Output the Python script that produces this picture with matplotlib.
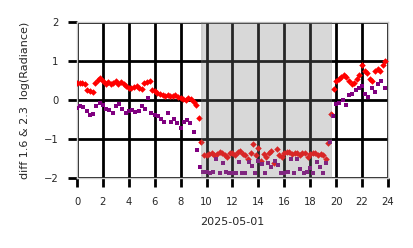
import numpy as np
import matplotlib
matplotlib.use("Agg")
import matplotlib.pyplot as plt

# diff 1.6 um (red) sampled every 0.2 h
red_vals = [0.45, 0.45, 0.43, 0.40, 0.25, 0.22, 0.20, 0.45, 0.52, 0.57,
            0.50, 0.42, 0.47, 0.40, 0.45, 0.48, 0.42, 0.47, 0.42, 0.35,
            0.30, 0.30, 0.33, 0.35, 0.30, 0.28, 0.45, 0.47, 0.48, 0.25,
            0.22, 0.18, 0.15, 0.13, 0.10, 0.12, 0.10, 0.10, 0.12, 0.08,
            0.05, 0.02, 0.00, 0.05, 0.03, -0.05, -0.12, -0.45, -1.07, -1.42,
            -1.40, -1.38, -1.35, -1.42, -1.38, -1.33, -1.36, -1.40, -1.47, -1.37,
            -1.36, -1.42, -1.34, -1.30, -1.38, -1.42, -1.50, -1.35, -1.12, -1.40,
            -1.24, -1.55, -1.38, -1.45, -1.35, -1.30, -1.62, -1.25, -1.40, -1.45,
            -1.35, -1.33, -1.34, -1.38, -1.35, -1.36, -1.40, -1.37, -1.35, -1.45,
            -1.38, -1.35, -1.36, -1.40, -1.38, -1.42, -1.50, -1.10, -0.35, 0.28,
            0.50, 0.55, 0.60, 0.65, 0.60, 0.50, 0.40, 0.45, 0.55, 0.65,
            0.90, 0.75, 0.70, 0.55, 0.50, 0.75, 0.80, 0.75, 0.90, 1.00]
red_step = 0.2

# diff 2.3 um (purple) sampled every 0.25 h
purple_vals = [-0.20, -0.15, -0.17, -0.28, -0.38, -0.35, -0.15, -0.08, -0.12, -0.22,
               -0.25, -0.33, -0.15, -0.10, -0.22, -0.32, -0.28, -0.25, -0.30, -0.28,
               -0.15, -0.22, 0.05, -0.32, -0.38, -0.40, -0.48, -0.55, -0.32, -0.55,
               -0.48, -0.60, -0.72, -0.55, -0.50, -0.60, -0.82, -1.28, -1.72,
               -1.85, -1.85, -1.86, -1.84, -1.50, -1.86, -1.62, -1.85, -1.87, -1.86,
               -1.88, -1.60, -1.87, -1.86, -1.60, -1.68, -1.86, -1.55, -1.63, -1.87,
               -1.62, -1.72, -1.55, -1.67, -1.86, -1.87, -1.85, -1.50, -1.86, -1.50,
               -1.78, -1.86, -1.85, -1.74, -1.87, -1.60, -1.72, -1.86, -1.62, -1.08,
               -0.40, -0.10, -0.08, 0.00, -0.12, 0.12, 0.15, 0.25, 0.30, 0.35,
               0.15, 0.08, 0.30, 0.20, 0.40, 0.50, 0.30]
purple_step = 0.25

night_start, night_end = 9.55, 19.72

t_red = np.arange(len(red_vals)) * red_step
t_purple = np.arange(len(purple_vals)) * purple_step

fig = plt.figure(figsize=(4.14, 2.48), dpi=100)
ax = fig.add_axes([0.186, 0.282, 0.751, 0.629])

ax.scatter(t_red, red_vals, marker="D", s=11, color="red", linewidths=0, zorder=3)
ax.scatter(t_purple, purple_vals, marker="s", s=9, color="purple", linewidths=0, zorder=3)

ax.axvspan(night_start, night_end, color="gray", alpha=0.3, lw=0, zorder=4)
ax.axvspan(night_start, night_start + 0.2, color="gray", alpha=0.1, lw=0, zorder=4)
ax.axvspan(night_end - 0.15, night_end, color="gray", alpha=0.1, lw=0, zorder=4)

ax.set_xlim(0, 24)
ax.set_ylim(-2, 2)
ax.set_xticks(range(0, 25, 2))
ax.set_yticks([-2, -1, 0, 1, 2])
ax.grid(True, color="black", lw=2)
for s in ax.spines.values():
    s.set_color("#cccccc")
    s.set_linewidth(1)
ax.tick_params(length=6.5, width=2, color="black", labelsize=7.2,
               labelcolor="#262626", pad=7)
ax.set_xlabel("2025-05-01", fontsize=8, color="#262626", labelpad=7)
ax.set_ylabel("diff 1.6 & 2.3  log(Radiance)", fontsize=8, color="#262626", labelpad=10)

fig.savefig("out.png", dpi=100)
